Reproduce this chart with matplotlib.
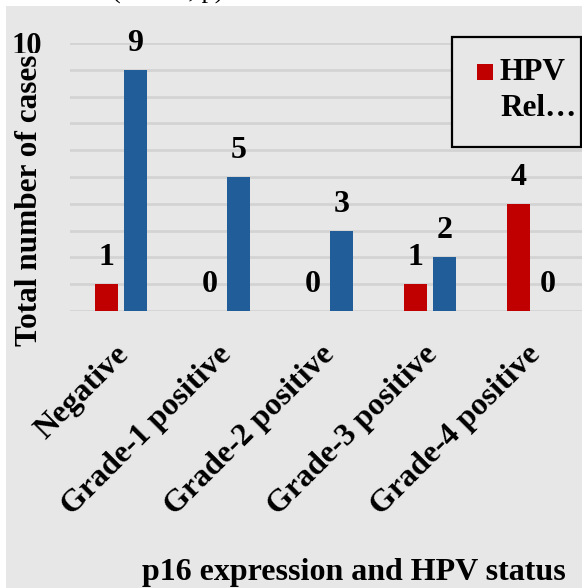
import matplotlib
matplotlib.use("Agg")
import matplotlib.pyplot as plt
from matplotlib.patches import Rectangle
import matplotlib.transforms as mtransforms
import numpy as np

categories = ["Negative", "Grade-1 positive", "Grade-2 positive", "Grade-3 positive", "Grade-4 positive"]
hpv_related = [1, 0, 0, 1, 4]
hpv_unrelated = [9, 5, 3, 2, 0]
series_names = ["HPV Related", "HPV Unrelated"]
y_ticks = [0, 1, 2, 3, 4, 5, 6, 7, 8, 9, 10]

RED = "#C00000"
BLUE = "#215E99"
BG = "#E7E7E7"
GRID = "#D3D3D3"
FONT = "Liberation Serif"

W, H = 582, 588
fig = plt.figure(figsize=(W / 100, H / 100), dpi=100, facecolor="white")
fig.patches.append(Rectangle((6 / W, 0), 1, 1 - 6 / H, transform=fig.transFigure,
                             facecolor=BG, edgecolor="none", zorder=-5))

# cropped title at the very top
fig.text(168 / W, 1 + 8 / H, "(n = 26, p)", ha="center", va="center",
         fontsize=19, family=FONT, color="black", zorder=-4)

left, right = 69.5 / W, 584.5 / W
bottom, top = 1 - 311 / H, 1 - 43 / H
ax = fig.add_axes([left, bottom, right - left, top - bottom])
ax.set_facecolor("none")

x = np.arange(len(categories))
bw = 0.225
off = 0.14
ax.bar(x - off, hpv_related, bw, color=RED, label=series_names[0], zorder=3)
ax.bar(x + off, hpv_unrelated, bw, color=BLUE, label=series_names[1], zorder=3)

lbl_off = mtransforms.offset_copy(ax.transData, fig=fig, x=0, y=19, units="dots")
for xs, vals in ((x - off, hpv_related), (x + off, hpv_unrelated)):
    for xi, v in zip(xs, vals):
        ax.text(xi, v, str(v), transform=lbl_off, ha="center", va="baseline",
                fontsize=23, fontweight="bold", family=FONT, zorder=4)

ax.set_xlim(-0.5, 4.5)
ax.set_ylim(0, 10)
ax.set_yticks(y_ticks)
ax.yaxis.grid(True, color=GRID, linewidth=2, zorder=0)
ax.set_axisbelow(True)
for s in ax.spines.values():
    s.set_visible(False)
ax.tick_params(axis="both", length=0)
ax.set_yticklabels([str(t) for t in y_ticks], fontsize=22, fontweight="bold", family=FONT)
ax.tick_params(axis="y", pad=20)

ax.set_xticks(x)
ax.set_xticklabels(categories, rotation=45, ha="right", rotation_mode="anchor",
                   fontsize=23, fontweight="bold", family=FONT)
shift = mtransforms.ScaledTranslation(-7 / 100, -24 / 100, fig.dpi_scale_trans)
for t in ax.get_xticklabels():
    t.set_transform(t.get_transform() + shift)

fig.text(30 / W, 1 - 200 / H, "Total number of cases", rotation=90, ha="center", va="center",
         fontsize=22.5, fontweight="bold", family=FONT,
         bbox=dict(facecolor=BG, edgecolor="none", pad=1), zorder=5)
fig.text(354 / W, 1 - 580 / H, "p16 expression and HPV status", ha="center", va="baseline",
         fontsize=23, fontweight="bold", family=FONT)

# legend (cropped at right edge of chart area)
fig.patches.append(Rectangle((452 / W, 1 - 147 / H), 129 / W, 110 / H, transform=fig.transFigure,
                             facecolor=BG, edgecolor="black", linewidth=1.6, zorder=6))
fig.patches.append(Rectangle((477 / W, 1 - 80 / H), 16 / W, 16 / H, transform=fig.transFigure,
                             facecolor=RED, edgecolor="none", zorder=7))
fig.text(500 / W, 1 - 72 / H, "HPV", ha="left", va="center", fontsize=22.5, fontweight="bold",
         family=FONT, zorder=8)
fig.text(500 / W, 1 - 109 / H, "Rel\u2026", ha="left", va="center", fontsize=22.5, fontweight="bold",
         family=FONT, zorder=8)

fig.savefig("out.png", dpi=100, facecolor="white")
